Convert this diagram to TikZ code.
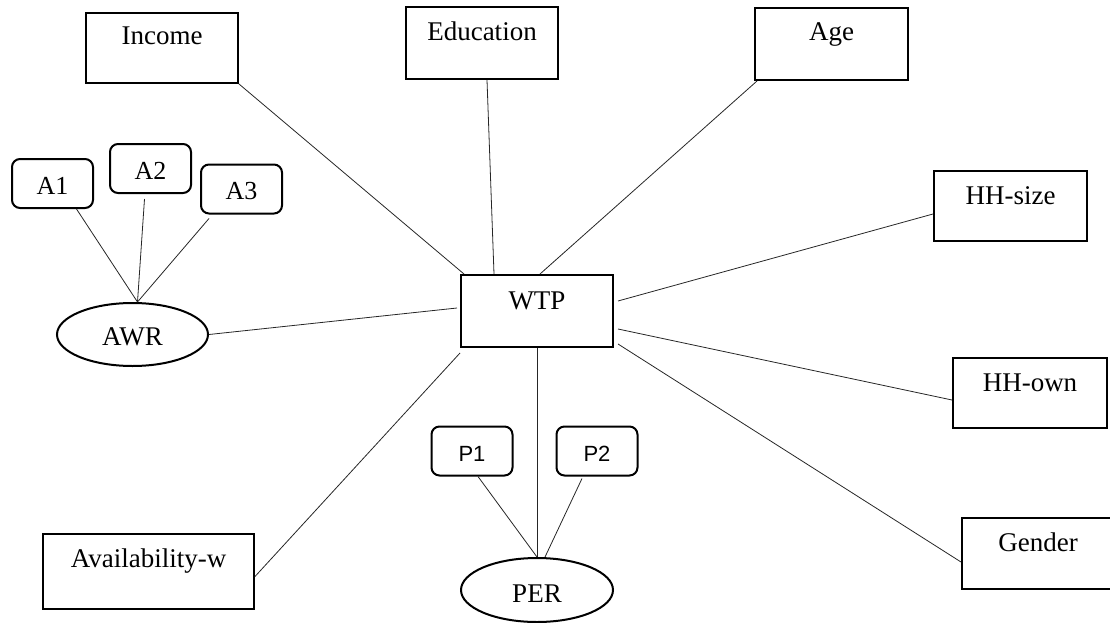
\documentclass[tikz,border=0pt]{standalone}
\usepackage{fontspec}
\setmainfont{Liberation Serif}
\newfontfamily\pfont{Liberation Sans}
\usetikzlibrary{shapes.geometric}
\tikzset{
  tbox/.style={draw, line width=2pt, inner sep=0pt, minimum width=152pt, font=\fontsize{27}{30}\selectfont},
  rbox/.style={draw, line width=2pt, inner sep=0pt, rounded corners=8pt, minimum width=81pt, minimum height=49pt, text height=35pt, text depth=14pt, font=\fontsize{26}{30}\selectfont},
  ell/.style={draw, ellipse, line width=2pt, inner sep=0pt, minimum width=152pt, minimum height=63pt, text depth=0pt, font=\fontsize{27}{30}\selectfont},
  conn/.style={line width=0.8pt, black!85}
}
\begin{document}
\begin{tikzpicture}[x=1pt, y=-1pt]
\useasboundingbox (0,0) rectangle (1110,623);
% factor boxes
\node[tbox, text height=32pt, text depth=38pt] (inc) at (162,48) {Income};
\node[tbox, text height=34pt, text depth=38pt] (edu) at (482,43) {Education};
\node[tbox, minimum width=153pt, text height=33pt, text depth=39pt] (age) at (831.5,44) {Age};
\node[tbox, minimum width=153pt, text height=33pt, text depth=37pt] (hhs) at (1010.5,206) {HH-size};
\node[tbox, text height=34pt, text depth=38pt] (wtp) at (537,311) {WTP};
\node[tbox, minimum width=154pt, text height=33pt, text depth=37pt] (hho) at (1030,393) {HH-own};
\node[tbox, text height=33pt, text depth=38pt] (gen) at (1038,553.5) {Gender};
\node[tbox, minimum width=211pt, text height=33pt, text depth=42pt] (ava) at (148.5,571.5) {Availability-w};
% indicators
\node[rbox] (a1) at (52.5,183.5) {A1};
\node[rbox] (a2) at (150.5,168.5) {A2};
\node[rbox] (a3) at (241.5,189) {A3};
\node[rbox, font=\pfont\fontsize{22}{26}\selectfont] (p1) at (472,451) {P1};
\node[rbox, font=\pfont\fontsize{22}{26}\selectfont] (p2) at (597,451) {P2};
% latent constructs
\node[ell, minimum width=151pt, text height=21pt] (awr) at (132.5,334.5) {AWR};
\node[ell, minimum height=64pt, text height=24pt] (per) at (537,590) {PER};
% connectors
\draw[conn] (inc.south east) -- ([xshift=4pt]wtp.north west);
\draw[conn] ([xshift=5pt]edu.south) -- ([xshift=-43pt]wtp.north);
\draw[conn] ([xshift=3pt]age.south west) -- ([xshift=3pt]wtp.north);
\draw[conn] ([yshift=-8pt]hhs.west) -- ([xshift=4pt,yshift=10pt]wtp.east);
\draw[conn] ([yshift=-7pt]hho.west) -- ([xshift=4pt,yshift=-18pt]wtp.east);
\draw[conn] ([yshift=-8.5pt]gen.west) -- ([xshift=4pt,yshift=4pt]wtp.south east);
\draw[conn] (awr.east) -- ([xshift=-3pt,yshift=3pt]wtp.west);
\draw[conn] ([yshift=-5pt]ava.east) -- ([yshift=-5pt]wtp.south west);
\draw[conn] (wtp.south) -- (per.north);
\draw[conn] ([xshift=6pt]p1.south) -- (per.north);
\draw[conn] ([xshift=-15pt,yshift=-2pt]p2.south) -- ([xshift=8pt]per.north);
\draw[conn] ([xshift=24pt]a1.south) -- ([xshift=5pt]awr.north);
\draw[conn] ([xshift=-6pt,yshift=-5pt]a2.south) -- ([xshift=5pt]awr.north);
\draw[conn] ([xshift=9pt,yshift=-4pt]a3.south west) -- ([xshift=5pt]awr.north);
\end{tikzpicture}
\end{document}
